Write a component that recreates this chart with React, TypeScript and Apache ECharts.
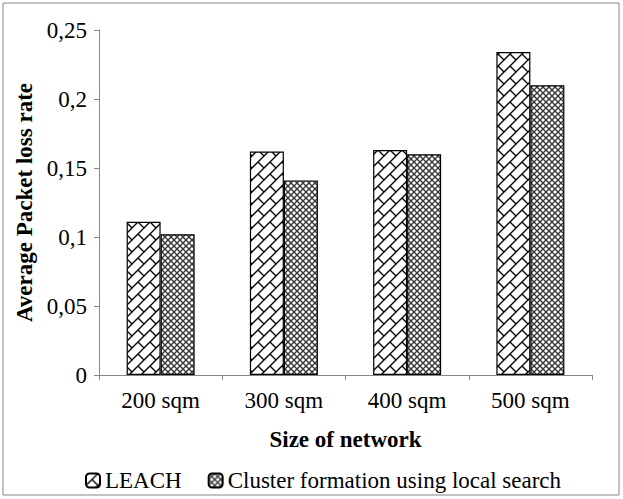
import React, { useEffect, useRef } from "react";
import * as echarts from "echarts";

const categories = ["200 sqm", "300 sqm", "400 sqm", "500 sqm"];
const leach = [0.111, 0.162, 0.163, 0.234];
const cluster = [0.102, 0.141, 0.16, 0.21];
const seriesNames = ["LEACH", "Cluster formation using local search"];
const yTicks = [0, 0.05, 0.1, 0.15, 0.2, 0.25];

function brickPattern(): string {
  const c = document.createElement("canvas");
  const s = 12;
  c.width = s;
  c.height = s;
  const ctx = c.getContext("2d")!;
  ctx.fillStyle = "#ffffff";
  ctx.fillRect(0, 0, s, s);
  ctx.strokeStyle = "#000000";
  ctx.lineWidth = 1.4;
  ctx.beginPath();
  ctx.moveTo(-1, s + 1);
  ctx.lineTo(s + 1, -1);
  ctx.moveTo(-s - 1, s + 1);
  ctx.lineTo(1, -1);
  ctx.moveTo(s - 1, 2 * s + 1);
  ctx.lineTo(2 * s + 1, s - 1);
  ctx.moveTo(s / 2, s / 2);
  ctx.lineTo(s + 1, s + 1);
  ctx.stroke();
  return c.toDataURL();
}

function checkPattern(): string {
  const c = document.createElement("canvas");
  const s = 6;
  c.width = s;
  c.height = s;
  const ctx = c.getContext("2d")!;
  ctx.fillStyle = "#a0a0a0";
  ctx.fillRect(0, 0, s, s);
  ctx.fillStyle = "#383838";
  for (let i = 0; i < s; i++) {
    ctx.fillRect(i, i, 1, 1);
    ctx.fillRect(s - 1 - i, i, 1, 1);
  }
  ctx.fillStyle = "#ffffff";
  ctx.fillRect(2, 0, 2, 1);
  ctx.fillRect(0, 2, 1, 2);
  ctx.fillRect(5, 2, 1, 2);
  ctx.fillRect(2, 5, 2, 1);
  return c.toDataURL();
}

export default function App() {
  const ref = useRef<HTMLDivElement>(null);
  useEffect(() => {
    if (!ref.current) return;
    const chart = echarts.init(ref.current, undefined, { renderer: "svg" });
    const p1 = { image: brickPattern(), repeat: "repeat" };
    const p2 = { image: checkPattern(), repeat: "repeat" };
    const font = "'Liberation Serif', 'Times New Roman', serif";
    const fs = 23;
    chart.setOption({
      animation: false,
      backgroundColor: "#ffffff",
      textStyle: { fontFamily: font },
      graphic: [
        {
          type: "rect",
          shape: { x: 3, y: 3, width: 616, height: 492 },
          style: { fill: "none", stroke: "#868686", lineWidth: 1 },
          silent: true,
        },
      ],
      grid: { left: 99, right: 31, top: 30, bottom: 124 },
      legend: {
        left: 80,
        top: 464,
        itemWidth: 14,
        itemHeight: 14,
        itemGap: 26,
        textStyle: { fontFamily: font, fontSize: fs, color: "#000" },
        data: seriesNames,
      },
      xAxis: {
        type: "category",
        data: categories,
        name: "Size of network",
        nameLocation: "middle",
        nameGap: 53,
        nameTextStyle: { fontFamily: font, fontSize: fs, fontWeight: "bold", color: "#000" },
        axisLine: { lineStyle: { color: "#868686" } },
        axisTick: { show: true, alignWithLabel: false, length: 5, lineStyle: { color: "#868686" } },
        axisLabel: { fontFamily: font, fontSize: fs, color: "#000", margin: 14 },
      },
      yAxis: {
        type: "value",
        min: 0,
        max: 0.25,
        interval: 0.05,
        name: "Average Packet loss rate",
        nameLocation: "middle",
        nameGap: 62,
        nameRotate: 90,
        nameTextStyle: { fontFamily: font, fontSize: fs, fontWeight: "bold", color: "#000" },
        splitLine: { show: false },
        axisLine: { show: true, lineStyle: { color: "#868686" } },
        axisTick: { show: true, length: 5, lineStyle: { color: "#868686" } },
        axisLabel: {
          fontFamily: font,
          fontSize: fs,
          color: "#000",
          margin: 12,
          formatter: (v: number) => {
            const t = yTicks.find((x) => Math.abs(x - v) < 1e-9);
            const val = t !== undefined ? t : v;
            return String(Number(val.toFixed(2))).replace(".", ",");
          },
        },
      },
      series: [
        {
          name: seriesNames[0],
          type: "bar",
          data: leach,
          barWidth: 34,
          barGap: "0%",
          itemStyle: { color: p1, borderColor: "#000", borderWidth: 1.2 },
        },
        {
          name: seriesNames[1],
          type: "bar",
          data: cluster,
          barWidth: 34,
          barGap: "0%",
          itemStyle: { color: p2, borderColor: "#000", borderWidth: 1.2 },
        },
      ],
    });
    return () => chart.dispose();
  }, []);
  return (
    <div
      ref={ref}
      style={{ position: "fixed", left: 0, top: 0, width: 623, height: 499 }}
    />
  );
}
